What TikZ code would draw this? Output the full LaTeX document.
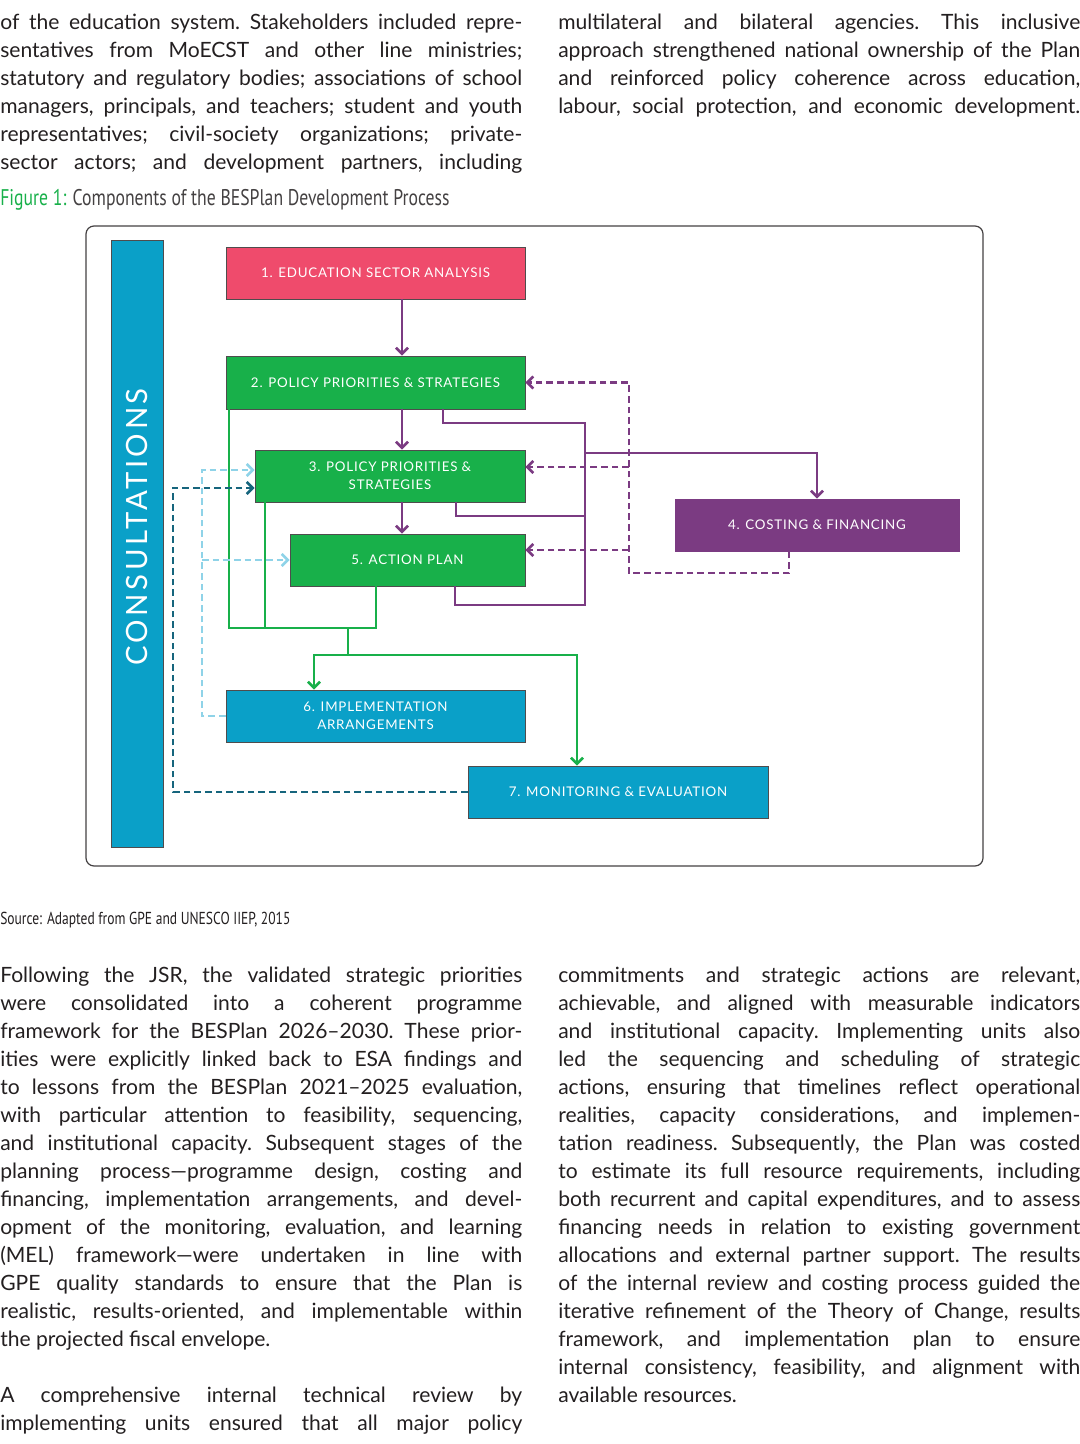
\documentclass[tikz,border=0pt]{standalone}
\usepackage{fontspec}
\setmainfont{Lato}
\newfontfamily\boxfont[LetterSpace=6]{Lato}
\newfontfamily\consfont[LetterSpace=12]{Lato}
\newfontfamily\condfont[FakeStretch=0.78]{PT Sans}
\usetikzlibrary{arrows.meta}
\definecolor{ink}{HTML}{231F20}
\definecolor{gr}{HTML}{18B04A}
\definecolor{pk}{HTML}{EF4B6C}
\definecolor{pu}{HTML}{7B3B82}
\definecolor{bl}{HTML}{0AA0C8}
\definecolor{lb}{HTML}{8FD3E8}
\definecolor{tl}{HTML}{16657D}
\tikzset{
 x=0.75pt,y=-0.75pt,
 col/.style={anchor=north west,inner sep=0pt,text width=391.5pt,align=justify,text=ink,font=\frenchspacing\fontsize{15.8}{21}\selectfont},
 box/.style={draw=ink!80,line width=0.6pt,text=white,align=center,inner sep=2pt,font=\boxfont\fontsize{10}{13.5}\selectfont},
 pur/.style={draw=pu,line width=2pt},
 purd/.style={pur,dash pattern=on 5pt off 3pt},
 grn/.style={draw=gr,line width=2pt},
 lbd/.style={draw=lb,line width=2pt,dash pattern=on 5pt off 3pt},
 tld/.style={draw=tl,line width=2pt,dash pattern=on 5pt off 3pt},
 tip/.style={-{Straight Barb[length=4.5pt,width=9pt]}},
}
\newcommand\fj{{\parfillskip=0pt\par}}
\begin{document}
\begin{tikzpicture}
\useasboundingbox (0,0) rectangle (1080,1444);
% top text
\node[col] (t1) at (0,14) {of the education system. Stakeholders included repre-\linebreak sentatives from MoECST and other line ministries;\linebreak statutory and regulatory bodies; associations of school\linebreak managers, principals, and teachers; student and youth\linebreak representatives; civil-society organizations; private-\linebreak sector actors; and development partners, including\fj};
\node[col] (t2) at (558,14) {multilateral and bilateral agencies. This inclusive\linebreak approach strengthened national ownership of the Plan\linebreak and reinforced policy coherence across education,\linebreak labour, social protection, and economic development.\fj};
\node[anchor=west,inner sep=0pt,font=\condfont\fontsize{17}{19}\selectfont,text=ink!85] (cap) at (0,200) {\textcolor{gr}{Figure 1:} Components of the BESPlan Development Process};
% frame
\draw[ink!85,line width=0.9pt,rounded corners=6pt] (86,226) rectangle (983,866);
\node[draw=ink!80,line width=0.6pt,fill=bl,minimum width=52*0.75pt,minimum height=607*0.75pt,inner sep=0pt] (cons) at (137,543.5) {};
\node[rotate=90,text=white,font=\consfont\fontsize{22}{24}\selectfont] (ct) at (137,527) {CONSULTATIONS};
% boxes
\node[box,fill=pk,minimum width=299*0.75pt,minimum height=52*0.75pt] (n1) at (375.5,273) {1. EDUCATION SECTOR ANALYSIS};
\node[box,fill=gr,minimum width=299*0.75pt,minimum height=53*0.75pt] (n2) at (375.5,382.5) {2. POLICY PRIORITIES \& STRATEGIES};
\node[box,fill=gr,minimum width=270*0.75pt,minimum height=52*0.75pt] (n3) at (390,476) {3. POLICY PRIORITIES \&\\STRATEGIES};
\node[box,fill=gr,minimum width=235*0.75pt,minimum height=52*0.75pt] (n5) at (407.5,560) {5. ACTION PLAN};
\node[box,fill=pu,draw=pu,minimum width=284*0.75pt,minimum height=52*0.75pt] (n4) at (817,525) {4. COSTING \& FINANCING};
\node[box,fill=bl,minimum width=299*0.75pt,minimum height=52*0.75pt] (n6) at (375.5,716) {6. IMPLEMENTATION\\ARRANGEMENTS};
\node[box,fill=bl,minimum width=300*0.75pt,minimum height=52*0.75pt] (n7) at (618,792) {7. MONITORING \& EVALUATION};
% connectors
\draw[pur,tip] (n1.south -| 402,0) -- (n2.north -| 402,0);
\draw[pur,tip] (n2.south -| 402,0) -- (n3.north -| 402,0);
\draw[pur,tip] (n3.south -| 402,0) -- (n5.north -| 402,0);
\draw[pur] (n2.south -| 443,0) |- (585,423) -- (585,605) -| (n5.south -| 455,0);
\draw[pur] (n3.south -| 456,0) |- (585,516);
\draw[pur,tip] (585,453) -| (n4.north -| 817,0);
\draw[purd,tip] (n4.south -| 789,0) |- (629,573) |- (n2.east);
\draw[purd,tip] (629,467) -- (n3.east |- 0,467);
\draw[purd,tip] (629,550) -- (n5.east |- 0,550);
\draw[grn] (n2.south -| 229,0) |- (376,628) -- (n5.south -| 376,0);
\draw[grn] (n3.south -| 265,0) -- (265,628);
\draw[grn,tip] (348,628) -- (348,655) -| (n6.north -| 314,0);
\draw[grn,tip] (348,655) -| (n7.north -| 577,0);
\draw[lbd,tip] (n6.west) -| (202,470) -- (n3.west |- 0,470);
\draw[lbd,tip] (202,560) -- (n5.west);
\draw[tld,tip] (n7.west) -| (173,488) -- (n3.west |- 0,488);
\node[anchor=west,inner sep=0pt,font=\condfont\fontsize{13}{15}\selectfont,text=ink] (src) at (0,920) {Source: Adapted from GPE and UNESCO IIEP, 2015};
% bottom text
\node[col] (b1) at (0,967) {Following the JSR, the validated strategic priorities\linebreak were consolidated into a coherent programme\linebreak framework for the BESPlan 2026–2030. These prior-\linebreak ities were explicitly linked back to ESA findings and\linebreak to lessons from the BESPlan 2021–2025 evaluation,\linebreak with particular attention to feasibility, sequencing,\linebreak and institutional capacity. Subsequent stages of the\linebreak planning process—programme design, costing and\linebreak financing, implementation arrangements, and devel-\linebreak opment of the monitoring, evaluation, and learning\linebreak (MEL) framework—were undertaken in line with\linebreak GPE quality standards to ensure that the Plan is\linebreak realistic, results-oriented, and implementable within\linebreak the projected fiscal envelope.\par\vspace{21pt}
A comprehensive internal technical review by\linebreak implementing units ensured that all major policy\fj};
\node[col] (b2) at (558,967) {commitments and strategic actions are relevant,\linebreak achievable, and aligned with measurable indicators\linebreak and institutional capacity. Implementing units also\linebreak led the sequencing and scheduling of strategic\linebreak actions, ensuring that timelines reflect operational\linebreak realities, capacity considerations, and implemen-\linebreak tation readiness. Subsequently, the Plan was costed\linebreak to estimate its full resource requirements, including\linebreak both recurrent and capital expenditures, and to assess\linebreak financing needs in relation to existing government\linebreak allocations and external partner support. The results\linebreak of the internal review and costing process guided the\linebreak iterative refinement of the Theory of Change, results\linebreak framework, and implementation plan to ensure\linebreak internal consistency, feasibility, and alignment with\linebreak available resources.};
\end{tikzpicture}
\end{document}
